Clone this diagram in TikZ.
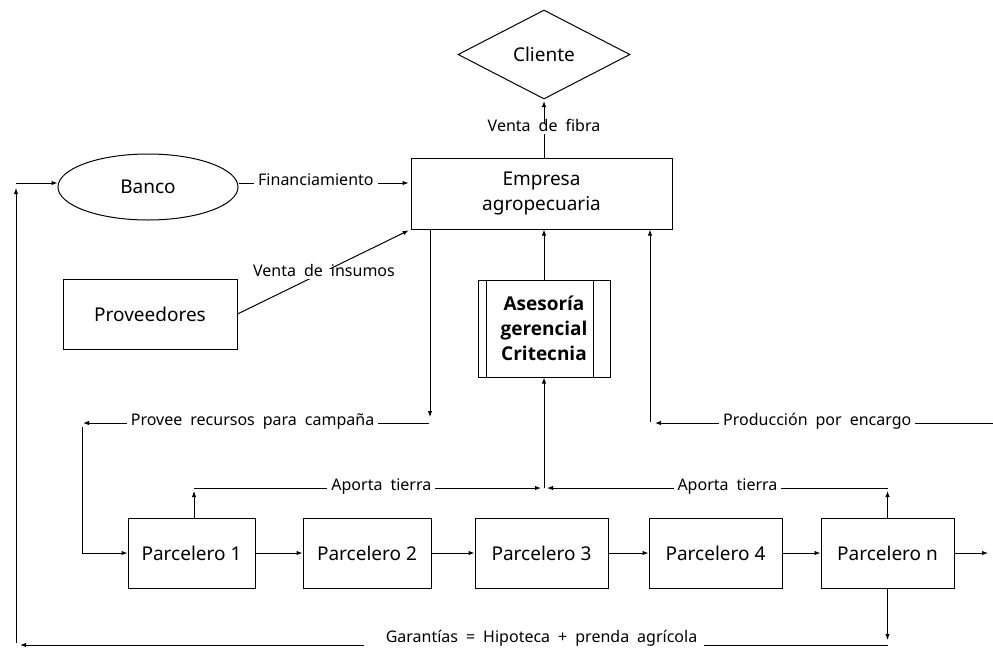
\documentclass[tikz,border=0pt]{standalone}
\usepackage{fontspec}
\setmainfont{Noto Sans}
\newfontfamily\asesfont{Open Sans}
\usetikzlibrary{shapes.geometric,arrows.meta,calc}
\newcommand{\mylblfont}{\fontsize{16}{19}\selectfont\spaceskip 0.5em\relax}
\begin{document}
\begin{tikzpicture}[x=1pt,y=-1pt,
  every node/.style={font=\fontsize{19}{25}\selectfont},
  box/.style={draw, line width=1pt, rectangle, inner sep=0pt, align=center},
  lbl/.style={font=\mylblfont, fill=white, inner xsep=4pt, inner ysep=0pt, text height=0.75em, text depth=0.25em},
  arr/.style={-{Latex[length=6pt,width=4.5pt]}, line width=1pt},
  ln/.style={line width=1pt}]
\useasboundingbox (0,0) rectangle (993,662);

% nodes
\node[diamond, draw, line width=1pt, minimum width=172pt, minimum height=89pt, inner sep=0pt] (cli) at (544,54.5) {Cliente};
\node[box, minimum width=261pt, minimum height=71pt] (emp) at (541.5,193.5) {Empresa\\agropecuaria};
\node[ellipse, draw, line width=1pt, minimum width=180pt, minimum height=66pt, inner sep=0pt] (banco) at (148,187) {Banco};
\node[box, minimum width=174pt, minimum height=70pt] (prov) at (150,314) {Proveedores};
\node[box, minimum width=132pt, minimum height=97pt, font=\asesfont\fontsize{19}{25}\selectfont\bfseries] (ases) at (544,328.5) {Asesoría\\gerencial\\Critecnia};
\draw[line width=1pt] ([xshift=9pt]ases.north west) -- ([xshift=9pt]ases.south west);
\draw[line width=1pt] ([xshift=-17pt]ases.north east) -- ([xshift=-17pt]ases.south east);

\node[box, minimum width=127pt, minimum height=70pt] (p1) at (191.5,553) {Parcelero 1};
\node[box, minimum width=128pt, minimum height=70pt] (p2) at (367,553) {Parcelero 2};
\node[box, minimum width=133pt, minimum height=70pt] (p3) at (541.5,553) {Parcelero 3};
\node[box, minimum width=133pt, minimum height=70pt] (p4) at (715.5,553) {Parcelero 4};
\node[box, minimum width=133pt, minimum height=70pt] (pn) at (887.5,553) {Parcelero n};

% chain of parceleros
\draw[arr] (p1.east) -- (p2.west);
\draw[arr] (p2.east) -- (p3.west);
\draw[arr] (p3.east) -- (p4.west);
\draw[arr] (p4.east) -- (pn.west);
\coordinate (pnr) at (988,553);
\draw[arr] (pn.east) -- (pnr);

% venta de fibra
\draw[arr, shorten >=1.5pt] (cli.south |- emp.north) -- (cli.south) node[lbl, midway] {Venta de fibra};

% financiamiento
\coordinate (fy) at (0,183);
\draw[arr, shorten >=2pt] (banco.east |- fy) -- (emp.west |- fy) node[lbl, pos=0.45] {Financiamiento};

% venta de insumos
\draw[arr, shorten >=2pt] (prov.east) -- (emp.south west) node[lbl, midway, yshift=-2pt] {Venta de insumos};

% provee recursos
\coordinate (pa) at (430,417);
\draw[arr] (pa |- emp.south) -- (pa);
\coordinate (pb) at (429,423);
\coordinate (pc) at (83,423);
\draw[arr] (pb) -- (pc) node[lbl, pos=0.51] {Provee recursos para campaña};
\coordinate (pd) at (82,427);
\draw[arr] (pd) |- (p1.west);

% produccion por encargo
\coordinate (qa) at (993,423);
\coordinate (qb) at (655,423);
\coordinate (qc) at (650,422);
\draw[arr] (qa) -- (qb) node[lbl, pos=0.52] {Producción por encargo};
\draw[arr] (qc) -- (qc |- emp.south);

% asesoria
\draw[arr] (ases.north) -- (ases.north |- emp.south);
\coordinate (m) at (544,488);
\draw[arr] (m) -- (ases.south);

% aporta tierra
\coordinate (al) at (194,491);
\draw[arr] (al |- p1.north) -- (al);
\coordinate (al2) at (194,488);
\coordinate (ar2) at (541,488);
\draw[arr] (al2) -- (ar2) node[lbl, pos=0.54] {Aporta tierra};
\coordinate (bl) at (887.5,491);
\draw[arr] (pn.north) -- (bl);
\coordinate (br2) at (887.5,488);
\coordinate (bm) at (547,488);
\draw[arr] (br2) -- (bm) node[lbl, pos=0.47] {Aporta tierra};

% garantias
\coordinate (ga) at (887.5,640);
\draw[arr] (pn.south) -- (ga);
\coordinate (gb) at (887.5,645);
\coordinate (gc) at (20,645);
\node[lbl, fill=none] (gar) at (541.5,640) {Garantías = Hipoteca + prenda agrícola};
\draw[ln] (gb) -- ([xshift=3pt]gar.east |- gb);
\draw[arr] ([xshift=-18pt]gar.west |- gb) -- (gc);
\coordinate (ha) at (16,643);
\coordinate (hb) at (16,188);
\coordinate (hc) at (16,183);
\draw[arr] (ha) -- (hb);
\draw[arr] (hc) -- (banco.west |- hc);
\end{tikzpicture}
\end{document}
